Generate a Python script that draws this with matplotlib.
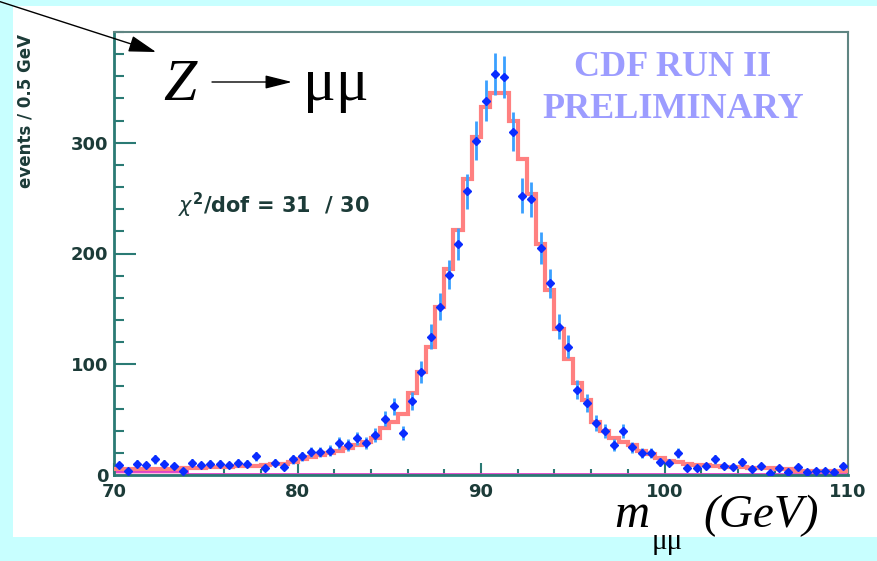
import numpy as np
import matplotlib
matplotlib.use('Agg')
import matplotlib.pyplot as plt
from matplotlib.patches import Rectangle
from matplotlib.ticker import MultipleLocator

# dimuon mass histogram, 0.5 GeV bins from 70 to 110 GeV
edges = np.arange(70, 110.01, 0.5)
centers = edges[:-1] + 0.25

# data counts
counts = [9, 4, 10, 9, 14, 10, 8, 4, 11, 9,
          10, 10, 9, 11, 10, 17, 6, 11, 7, 14,
          17, 21, 21, 22, 29, 27, 33, 29, 36, 51,
          62, 38, 67, 93, 125, 152, 181, 209, 256, 302,
          338, 362, 359, 310, 252, 249, 205, 173, 134, 116,
          77, 65, 47, 40, 27, 40, 25, 20, 20, 12,
          11, 20, 6, 6, 8, 14, 8, 7, 12, 5,
          8, 2, 6, 3, 7, 3, 4, 4, 3, 8]

# fitted shape (red histogram)
fit = [5, 5, 5, 5, 5, 5, 5, 6, 6, 6,
       7, 7, 7, 8, 8, 8, 9, 10, 10, 12,
       14, 16, 18, 20, 22, 24, 27, 30, 33, 42,
       48, 55, 74, 93, 116, 152, 186, 221, 267, 305,
       332, 345, 345, 320, 285, 254, 209, 167, 132, 105,
       83, 68, 48, 40, 33, 30, 27, 22, 19, 15,
       13, 12, 10, 9, 9, 8, 7, 7, 7, 6,
       6, 6, 5, 5, 4, 4, 4, 4, 4, 4]

# small background (pink)
bkg = [4] * 8 + [1] * 72

W, H = 878, 561


def fx(x):
    return x / W


def fy(y):
    return 1 - y / H


plt.rcParams['mathtext.fontset'] = 'dejavusans'

fig = plt.figure(figsize=(8.78, 5.61), dpi=100, facecolor='#c8ffff')
fig.add_artist(Rectangle((fx(13), fy(537)), (W - 13) / W, 531 / H,
                         transform=fig.transFigure, facecolor='white',
                         edgecolor='none', zorder=0))

ax = fig.add_axes([fx(114), fy(475), 734 / W, 443 / H])
ax.set_facecolor('white')

ax.stairs(bkg, edges, fill=True, color='#ffbde0', zorder=2)
ax.stairs(bkg, edges, baseline=None, color='#e040c8', lw=2, zorder=2)
ax.stairs(fit, edges, baseline=None, color='#ff8080', lw=3, zorder=3)
ax.errorbar(centers, counts, yerr=np.sqrt(counts), fmt='D', ms=4.5,
            color='#0a2cff', mec='#0a2cff', ecolor='#3aa0ff',
            elinewidth=2, capsize=0, zorder=4)

ax.set_xlim(70, 110)
ax.set_ylim(0, 400)

for s in ['left', 'bottom']:
    ax.spines[s].set_color('#2a7a74')
    ax.spines[s].set_linewidth(2)
for s in ['top', 'right']:
    ax.spines[s].set_color('#5f8582')
    ax.spines[s].set_linewidth(1.5)

ax.set_xticks([70, 80, 90, 100, 110])
ax.xaxis.set_minor_locator(MultipleLocator(2))
ax.set_yticks([0, 100, 200, 300])
ax.yaxis.set_minor_locator(MultipleLocator(20))
ax.tick_params(which='both', direction='in', top=False, right=False,
               color='#2a7a74', width=1.5, labelcolor='#1c3b38',
               labelsize=13)
ax.tick_params(axis='x', which='major', length=8.6, pad=6)
ax.tick_params(axis='x', which='minor', length=4.3)
ax.tick_params(axis='y', which='major', length=15.8, pad=4)
ax.tick_params(axis='y', which='minor', length=7.2)
for lab in ax.get_xticklabels() + ax.get_yticklabels():
    lab.set_fontweight('bold')
    lab.set_family('DejaVu Sans')

fig.text(fx(26), fy(111), 'events / 0.5 GeV', rotation=90, ha='center',
         va='center', fontsize=12, fontweight='bold', color='#1c3b38')

fig.text(fx(178), fy(205), r'$\chi^{\mathbf{2}}$/dof = 31  / 30', ha='left',
         va='center', fontsize=15, fontweight='bold', color='#1c3b38')

fig.text(fx(673), fy(68), 'CDF RUN II', ha='center', va='center',
         family='Liberation Serif', fontweight='bold', fontsize=26,
         color='#9c9cff')
fig.text(fx(673), fy(110), 'PRELIMINARY', ha='center', va='center',
         family='Liberation Serif', fontweight='bold', fontsize=26,
         color='#9c9cff')

# Z -> mumu label
fig.text(fx(163), fy(100), 'Z', family='Liberation Serif', style='italic',
         fontsize=43, va='baseline', ha='left')
ax.annotate('', xy=(fx(292), fy(82)), xytext=(fx(212), fy(82)),
            xycoords='figure fraction', textcoords='figure fraction',
            arrowprops=dict(arrowstyle='-|>,head_length=1.0,head_width=0.25',
                            color='black', lw=1, mutation_scale=16.5,
                            shrinkA=0, shrinkB=0))
fig.text(fx(303), fy(100), 'μμ', family='Liberation Serif', fontsize=44,
         va='baseline', ha='left')

# pointer arrow in the corner
ax.annotate('', xy=(fx(156), fy(52)), xytext=(fx(-2), fy(1)),
            xycoords='figure fraction', textcoords='figure fraction',
            arrowprops=dict(arrowstyle='-|>,head_length=1.0,head_width=0.3',
                            color='black', lw=1, mutation_scale=17,
                            shrinkA=0, shrinkB=0))

# x axis title
fig.text(fx(614), fy(527), 'm', family='Liberation Serif', style='italic',
         fontsize=35, va='baseline', ha='left')
fig.text(fx(652), fy(549), 'μμ', family='Liberation Serif', fontsize=21,
         va='baseline', ha='left')
fig.text(fx(703), fy(527), '(GeV)', family='Liberation Serif',
         style='italic', fontsize=34, va='baseline', ha='left')

fig.savefig('out.png', dpi=100, facecolor=fig.get_facecolor())
